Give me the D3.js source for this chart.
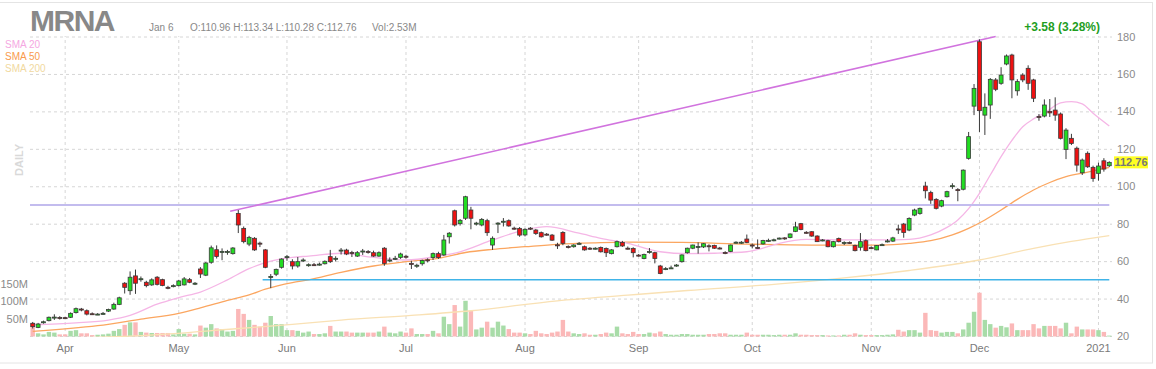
<!DOCTYPE html>
<html>
<head>
<meta charset="utf-8">
<script src="https://cdn.jsdelivr.net/npm/d3@7"></script>
<style>
  body { margin: 0; background: #fff; }
  svg { display: block; }
</style>
</head>
<body>
<div id="chart"></div>
<script>
// trading days, Mar 24 2020 .. Jan 6 2021
const dates = [
  "2020-03-24","2020-03-25","2020-03-26","2020-03-27","2020-03-30","2020-03-31",
  "2020-04-01","2020-04-02","2020-04-03","2020-04-06","2020-04-07","2020-04-08","2020-04-09","2020-04-13","2020-04-14","2020-04-15","2020-04-16","2020-04-17","2020-04-20","2020-04-21","2020-04-22","2020-04-23","2020-04-24","2020-04-27","2020-04-28","2020-04-29","2020-04-30",
  "2020-05-01","2020-05-04","2020-05-05","2020-05-06","2020-05-07","2020-05-08","2020-05-11","2020-05-12","2020-05-13","2020-05-14","2020-05-15","2020-05-18","2020-05-19","2020-05-20","2020-05-21","2020-05-22","2020-05-26","2020-05-27","2020-05-28","2020-05-29",
  "2020-06-01","2020-06-02","2020-06-03","2020-06-04","2020-06-05","2020-06-08","2020-06-09","2020-06-10","2020-06-11","2020-06-12","2020-06-15","2020-06-16","2020-06-17","2020-06-18","2020-06-19","2020-06-22","2020-06-23","2020-06-24","2020-06-25","2020-06-26","2020-06-29","2020-06-30",
  "2020-07-01","2020-07-02","2020-07-06","2020-07-07","2020-07-08","2020-07-09","2020-07-10","2020-07-13","2020-07-14","2020-07-15","2020-07-16","2020-07-17","2020-07-20","2020-07-21","2020-07-22","2020-07-23","2020-07-24","2020-07-27","2020-07-28","2020-07-29","2020-07-30","2020-07-31",
  "2020-08-03","2020-08-04","2020-08-05","2020-08-06","2020-08-07","2020-08-10","2020-08-11","2020-08-12","2020-08-13","2020-08-14","2020-08-17","2020-08-18","2020-08-19","2020-08-20","2020-08-21","2020-08-24","2020-08-25","2020-08-26","2020-08-27","2020-08-28","2020-08-31",
  "2020-09-01","2020-09-02","2020-09-03","2020-09-04","2020-09-08","2020-09-09","2020-09-10","2020-09-11","2020-09-14","2020-09-15","2020-09-16","2020-09-17","2020-09-18","2020-09-21","2020-09-22","2020-09-23","2020-09-24","2020-09-25","2020-09-28","2020-09-29","2020-09-30",
  "2020-10-01","2020-10-02","2020-10-05","2020-10-06","2020-10-07","2020-10-08","2020-10-09","2020-10-12","2020-10-13","2020-10-14","2020-10-15","2020-10-16","2020-10-19","2020-10-20","2020-10-21","2020-10-22","2020-10-23","2020-10-26","2020-10-27","2020-10-28","2020-10-29","2020-10-30",
  "2020-11-02","2020-11-03","2020-11-04","2020-11-05","2020-11-06","2020-11-09","2020-11-10","2020-11-11","2020-11-12","2020-11-13","2020-11-16","2020-11-17","2020-11-18","2020-11-19","2020-11-20","2020-11-23","2020-11-24","2020-11-25","2020-11-27","2020-11-30",
  "2020-12-01","2020-12-02","2020-12-03","2020-12-04","2020-12-07","2020-12-08","2020-12-09","2020-12-10","2020-12-11","2020-12-14","2020-12-15","2020-12-16","2020-12-17","2020-12-18","2020-12-21","2020-12-22","2020-12-23","2020-12-24","2020-12-28","2020-12-29","2020-12-30","2020-12-31",
  "2021-01-04","2021-01-05","2021-01-06"
];

const open = [
  26.8,24.6,27.2,28.2,30.0,29.9,29.8,30.0,32.5,34.4, 33.5,31.9,31.6,32.0,33.3,34.4,36.9,48.2,44.2,52.1,
  50.4,48.7,47.3,51.4,50.1,46.0,46.6,46.9,47.3,50.1, 48.0,55.8,52.5,59.4,66.1,65.0,65.0,64.0,85.5,77.5,
  69.1,72.2,69.6,66.0,51.6,53.0,56.7,62.3,59.7,57.4, 60.4,58.0,58.1,58.3,58.6,62.4,61.3,65.8,65.9,64.6,
  62.7,65.3,65.1,64.5,62.7,66.9,60.5,61.4,62.0,62.6, 58.8,57.7,58.6,60.7,61.9,64.0,63.3,73.0,86.9,80.0,
  82.9,87.3,80.1,79.3,81.6,68.6,80.0,81.0,81.6,77.6, 77.5,74.0,77.6,76.6,75.2,74.4,73.9,68.7,75.3,67.8,
  67.7,69.4,67.7,66.9,66.8,67.3,66.8,64.0,67.7,70.0, 66.9,66.8,63.2,61.4,65.0,64.5,57.4,55.8,56.3,57.6,
  59.7,64.5,66.9,67.6,67.6,68.2,68.3,67.0,64.6,65.1, 69.9,70.0,71.8,68.6,67.3,69.2,71.0,71.3,72.1,72.4,
  72.6,75.9,80.0,75.4,75.7,73.4,71.1,70.9,67.7,72.1, 69.9,70.0,68.3,67.4,70.9,67.2,66.0,68.6,70.6,70.7,
  77.2,79.8,76.6,84.6,85.5,100.1,96.6,93.0,89.4,94.4, 100.0,98.2,98.4,114.9,142.8,177.2,138.0,143.4,156.8,155.0,
  165.3,170.1,151.0,159.4,163.0,156.8,137.3,137.5,140.0,140.7, 138.6,119.7,125.6,120.3,107.2,117.6,110.1,106.9,113.6,110.96
];

const high = [
  27.5,27.0,28.2,30.4,31.6,30.6,30.2,32.6,35.2,35.0, 34.2,32.6,32.2,32.8,34.6,37.8,41.0,48.8,54.5,55.5,
  51.8,49.5,50.8,52.0,50.6,46.8,47.6,50.0,51.5,51.0, 48.8,56.8,59.5,68.3,68.4,66.8,66.0,67.5,87.3,78.5,
  73.5,72.8,70.4,66.5,53.1,56.0,61.5,63.3,61.0,62.2, 61.5,58.8,59.0,59.2,60.4,66.0,62.6,67.0,66.6,65.5,
  65.4,66.5,65.9,65.6,65.2,67.5,62.0,62.8,64.5,63.4, 60.2,58.6,60.8,61.5,64.6,65.0,74.0,75.5,87.5,82.5,
  94.9,89.0,81.0,83.0,82.6,73.2,80.8,83.0,82.3,78.4, 78.2,77.5,78.2,77.2,75.8,75.0,74.5,69.8,76.0,68.4,
  69.0,70.2,68.3,67.5,67.4,67.8,67.3,66.4,71.0,70.8, 67.8,67.4,63.8,64.0,67.0,65.0,58.0,56.8,57.6,58.4,
  63.6,67.2,68.8,70.0,69.6,69.0,68.8,67.6,65.3,68.8, 70.6,70.7,74.2,69.4,71.6,71.4,72.0,72.0,72.6,72.8,
  74.8,81.0,80.4,76.0,76.0,73.8,71.8,71.4,70.8,72.6, 70.6,70.5,68.8,75.0,71.6,67.8,68.6,69.4,71.8,73.0,
  79.5,80.4,83.4,88.0,88.6,102.4,97.6,93.6,92.8,97.6, 101.6,99.0,109.0,129.0,154.6,178.5,149.6,157.8,157.8,163.6,
  170.4,170.8,157.2,160.4,164.6,157.4,138.6,146.4,146.6,147.5, 139.4,131.0,128.0,121.2,114.8,118.6,111.0,112.6,115.0,113.34
];

const low = [
  24.0,24.2,26.6,27.8,28.6,28.8,29.0,29.6,32.0,33.2, 31.0,31.2,31.2,31.4,32.8,34.0,36.5,42.7,42.0,42.5,
  49.0,46.0,46.8,47.0,46.6,45.0,46.0,46.5,47.0,48.2, 47.2,51.0,52.0,58.6,61.4,60.5,63.4,63.5,75.0,69.5,
  68.0,65.5,67.5,56.2,45.6,52.0,56.0,60.2,55.6,56.5, 59.5,57.0,57.4,57.6,58.2,59.0,59.8,63.5,63.2,62.2,
  62.2,63.3,64.0,62.3,62.3,57.5,59.4,60.6,61.2,61.4, 55.8,56.4,57.6,59.3,60.6,61.2,62.8,69.4,78.5,79.0,
  82.0,77.0,79.0,78.6,73.5,66.0,75.0,78.5,78.4,76.8, 73.0,73.2,76.6,74.0,72.6,73.6,70.8,66.5,68.5,66.8,
  67.2,68.6,65.6,66.0,66.2,64.6,62.2,63.6,67.3,67.6, 66.2,62.0,62.4,61.0,64.0,58.8,53.0,55.2,55.8,57.0,
  59.2,64.0,66.4,64.0,67.0,65.2,66.5,66.3,63.7,64.8, 69.4,69.2,69.6,66.8,66.6,68.8,70.2,70.6,71.6,71.4,
  72.2,75.5,76.5,74.6,73.0,70.2,70.6,67.4,67.3,70.0, 68.6,69.2,65.2,65.6,65.2,66.4,65.8,68.2,70.0,70.2,
  74.5,72.5,76.0,84.0,84.8,93.5,90.6,87.6,88.8,94.0, 98.6,92.0,97.8,114.2,138.0,129.0,127.4,136.0,150.8,154.2,
  164.6,147.0,148.4,155.6,151.5,145.0,135.0,136.8,137.0,135.0, 125.0,114.5,122.0,107.8,106.0,109.8,102.4,103.0,107.8,110.28
];

const close = [
  25.0,26.4,27.6,30.0,30.1,29.8,29.6,32.1,34.6,34.3, 31.7,31.8,31.7,32.1,34.2,36.9,40.4,46.0,51.4,48.2,
  50.6,46.9,50.0,47.6,47.0,45.8,46.9,49.4,50.5,48.7, 48.2,53.1,59.0,67.1,62.5,65.2,65.1,67.0,79.3,70.4,
  72.7,66.0,69.4,56.7,51.8,55.6,61.1,62.4,57.4,59.7, 60.6,58.1,58.0,58.4,59.9,59.7,61.5,65.9,63.8,64.5,
  64.5,65.4,65.0,62.7,64.5,58.8,60.6,61.5,63.8,62.4, 58.7,57.8,60.3,60.6,64.0,61.9,71.3,74.9,79.3,81.8,
  94.4,82.9,80.3,82.3,75.2,72.2,80.3,81.3,78.8,77.4, 73.9,77.0,77.4,74.8,73.0,74.2,71.2,68.5,69.5,67.6,
  68.6,69.5,66.0,66.7,66.9,65.0,64.5,66.0,70.4,68.1, 66.7,64.5,63.0,63.5,65.1,61.4,53.4,56.0,56.4,57.9,
  63.3,66.9,68.6,67.8,69.3,68.0,66.9,66.8,64.4,68.6, 70.1,70.1,70.0,68.4,67.1,71.0,71.1,71.4,72.3,72.3,
  74.5,78.3,76.9,75.3,73.4,70.4,71.3,67.7,70.4,70.4, 70.0,69.8,65.6,70.4,65.6,67.1,68.3,68.8,70.8,72.4,
  77.0,75.3,82.8,87.3,88.2,97.6,92.6,88.2,92.3,97.1, 100.3,98.0,108.6,126.5,152.3,140.4,142.2,157.1,151.8,159.4,
  169.6,156.8,155.9,156.8,155.0,147.0,136.8,143.4,139.2,138.0, 125.6,130.0,122.9,111.3,114.0,110.4,104.2,110.8,109.18,112.76
];

// volume, millions
const volume = [
  37,9,6,13,11,6,6,16,18,9, 9,4,5,6,8,16,21,33,40,40,
  13,11,10,10,10,10,6,21,8,8, 6,31,25,35,23,21,14,16,78,64,
  47,33,28,39,58,35,35,18,18,16, 11,14,7,7,9,30,14,14,14,11,
  11,11,11,11,14,28,11,9,14,11, 23,7,7,7,16,9,56,35,89,28,
  101,73,20,25,42,25,42,31,21,11, 11,9,7,16,9,7,11,14,47,14,
  9,7,9,5,5,7,11,9,28,9, 7,13,7,7,11,9,14,7,5,5,
  7,7,5,5,5,7,7,9,9,5, 5,5,11,5,5,5,5,4,5,5,
  5,9,5,5,4,4,4,3,3,3, 5,5,9,5,4,4,4,4,5,6,
  19,14,18,18,11,67,18,16,11,13, 13,9,20,39,70,124,47,35,25,30,
  26,37,18,18,18,35,23,30,30,30, 23,39,9,28,20,20,20,18,13,2.53
];

// moving averages: [day index, value]
const sma20 = [[0,26],[8,27],[14,28.5],[18,31],[23,37],[27,40.5],[31,43.5],[36,50],[40,56],[44,60],[48,62],[51,62.7],[57,64.2],[63,62],[69,60.6],[75,62.7],[79,65],[85,71.3],[91,76.7],[95,78.4],[101,74.9],[105,72.2],[110,69.5],[116,65],[121,64],[126,64.2],[132,65],[135,67],[138,69.5],[143,71.6],[150,71.3],[157,71.3],[162,71.6],[166,74],[169,78],[171,82],[173,88],[175,96.2],[177,106],[179,115.8],[181,124.5],[183,131.8],[185,136],[187,139],[190,144.5],[192,145.2],[194,144],[196,139],[199,132.2]];
const sma50 = [[0,22.5],[12,25.5],[20,29],[27,32.1],[31,35],[36,39],[40,42],[43,45],[48,48.5],[51,50],[57,54],[63,57.4],[69,59.7],[75,61.5],[80,64.6],[85,66.3],[91,67.7],[97,69],[104,69.8],[110,70.2],[120,70],[132,69.1],[144,68.6],[157,68.6],[162,69.5],[166,70.9],[170,74],[173,77.5],[176,82],[179,87.3],[182,93],[185,98],[188,102],[191,105.1],[195,107.5],[199,110.1]];
const sma200 = [[0,18.5],[20,20.2],[38,24],[48,26.2],[57,28.5],[70,31],[81,33.5],[97,38.8],[110,41.8],[121,44.3],[138,47.8],[150,51],[162,55],[175,60.6],[185,66.8],[192,70.5],[199,73.6]];

// drawn levels: [start day index, price]
const trendLine = [[37, 86.6], [178, 180]];
const levelLines = [{from: 0, price: 90, color: "#c3bcee", w: 2}, {from: 43, price: 50, color: "#40b4e8", w: 1.5}];

const priceTicks = [20, 40, 60, 80, 100, 120, 140, 160, 180];
const volumeTicks = [50, 100, 150];
const monthTicks = ["2020-04-01","2020-05-01","2020-06-01","2020-07-01","2020-08-03","2020-09-01","2020-10-01","2020-11-02","2020-12-01","2021-01-04"];
const monthLabels = ["Apr","May","Jun","Jul","Aug","Sep","Oct","Nov","Dec","2021"];

const lastPrice = 112.76;
const headerDate = "Jan 6";
const headerOHLC = "O:110.96 H:113.34 L:110.28 C:112.76";
const headerVol = "Vol:2.53M";
const changeText = "+3.58 (3.28%)";

const width = 1156, height = 369;
const plot = {left: 30, right: 1112, top: 36, bottom: 337};

const svg = d3.select("#chart").append("svg")
  .attr("width", width).attr("height", height)
  .style("font-family", '"Liberation Sans", Arial, sans-serif');

// outer frame
svg.append("rect")
  .attr("x", -1).attr("y", 2.5).attr("width", 1153.5).attr("height", 360.5)
  .attr("fill", "none").attr("stroke", "#e4e4e4");

const x = d3.scaleBand().domain(dates).range([plot.left, plot.right]).padding(0);
const cx = d => x(d) + x.bandwidth() / 2;
const y = d3.scaleLinear().domain([20, 180]).range([336, 36.5]);
const yv = d3.scaleLinear().domain([0, 150]).range([336.5, 283.5]);

// grid
const gridY = svg.append("g")
  .attr("transform", `translate(${plot.left},0)`)
  .call(d3.axisLeft(y).tickValues(priceTicks).tickSize(-(plot.right - plot.left)).tickFormat(""));
const gridX = svg.append("g")
  .attr("transform", `translate(0,${plot.bottom})`)
  .call(d3.axisBottom(x).tickValues(monthTicks).tickSize(-(plot.bottom - plot.top)).tickFormat(""));
[gridY, gridX].forEach(g => {
  g.select(".domain").remove();
  g.selectAll("line").attr("stroke", "#d6d6d6").attr("stroke-dasharray", "3,3");
});

svg.append("defs").append("clipPath").attr("id", "clip")
  .append("rect").attr("x", plot.left - 2).attr("y", plot.top - 1)
  .attr("width", plot.right - plot.left + 4).attr("height", plot.bottom - plot.top + 1);
const area = svg.append("g").attr("clip-path", "url(#clip)");

const idx = d3.range(dates.length);

// volume bars
area.append("g").selectAll("rect")
  .data(idx).join("rect")
  .attr("x", i => x(dates[i]) + 0.5)
  .attr("width", x.bandwidth() - 1)
  .attr("y", i => yv(volume[i]))
  .attr("height", i => yv(0) - yv(volume[i]))
  .attr("fill", i => close[i] >= open[i] ? "#a8dca8" : "#fbb8b8");

// moving averages
const maLine = d3.line().x(p => cx(dates[p[0]])).y(p => y(p[1])).curve(d3.curveMonotoneX);
[[sma200, "#f9e1b4"], [sma50, "#fba660"], [sma20, "#f5b6e6"]].forEach(([pts, c]) => {
  area.append("path").datum(pts).attr("d", maLine)
    .attr("fill", "none").attr("stroke", c).attr("stroke-width", 1.3);
});

// drawn lines
levelLines.forEach(l => {
  area.append("line")
    .attr("x1", l.from === 0 ? plot.left : x(dates[l.from]))
    .attr("x2", cx(dates[dates.length - 1]))
    .attr("y1", y(l.price)).attr("y2", y(l.price))
    .attr("stroke", l.color).attr("stroke-width", l.w);
});
area.append("line")
  .attr("x1", x(dates[trendLine[0][0]])).attr("y1", y(trendLine[0][1]))
  .attr("x2", cx(dates[trendLine[1][0]])).attr("y2", y(trendLine[1][1]))
  .attr("stroke", "#d173de").attr("stroke-width", 1.5);

// candles
const candles = area.append("g").selectAll("g").data(idx).join("g");
candles.append("line")
  .attr("x1", i => cx(dates[i])).attr("x2", i => cx(dates[i]))
  .attr("y1", i => y(high[i])).attr("y2", i => y(low[i]))
  .attr("stroke", "#3a3a3a").attr("stroke-width", 1);
const bodyW = 3.9;
candles.append("rect")
  .attr("x", i => cx(dates[i]) - bodyW / 2)
  .attr("width", bodyW)
  .attr("y", i => y(Math.max(open[i], close[i])))
  .attr("height", i => Math.max(1, Math.abs(y(open[i]) - y(close[i]))))
  .attr("fill", i => close[i] >= open[i] ? "#22dd22" : "#ee1111")
  .attr("stroke", "#3a3a3a").attr("stroke-width", 0.8);

// price axis on the right
const yAxis = svg.append("g")
  .attr("transform", `translate(${plot.right},0)`)
  .call(d3.axisRight(y).tickValues(priceTicks).tickSize(0).tickPadding(5));
yAxis.select(".domain").remove();
yAxis.selectAll("text").attr("fill", "#8a8a8a").style("font-size", "11px");

// volume axis on the left
const vAxis = svg.append("g")
  .attr("transform", `translate(${plot.left},0)`)
  .call(d3.axisLeft(yv).tickValues(volumeTicks).tickFormat(d => d + "M").tickSize(0).tickPadding(2));
vAxis.select(".domain").remove();
vAxis.selectAll("text").attr("fill", "#8a8a8a").style("font-size", "11px");

// month axis
const xAxis = svg.append("g")
  .attr("transform", `translate(0,${plot.bottom + 3})`)
  .call(d3.axisBottom(x).tickValues(monthTicks).tickFormat((d, i) => monthLabels[i]).tickSize(0).tickPadding(4));
xAxis.select(".domain").remove();
xAxis.selectAll("text").attr("fill", "#7a7a7a").style("font-size", "11px");

// last price tag
const tagY = y(lastPrice);
svg.append("rect").attr("x", 1114).attr("y", tagY - 6).attr("width", 34).attr("height", 12).attr("fill", "#ffff22");
svg.append("text").attr("x", 1131).attr("y", tagY + 4).attr("text-anchor", "middle")
  .attr("fill", "#777").style("font-size", "11px").style("font-weight", "bold").text(lastPrice.toFixed(2));

// header
svg.append("text").attr("x", 30).attr("y", 31)
  .attr("fill", "#888").style("font-size", "30px").style("font-weight", "bold")
  .style("letter-spacing", "-1.5px").text("MRNA");
svg.append("text").attr("x", 149).attr("y", 31).attr("fill", "#888").style("font-size", "10px").text(headerDate);
svg.append("text").attr("x", 190).attr("y", 31).attr("fill", "#888").style("font-size", "10px").text(headerOHLC);
svg.append("text").attr("x", 372).attr("y", 31).attr("fill", "#888").style("font-size", "10px").text(headerVol);
svg.append("text").attr("x", 1100).attr("y", 31).attr("text-anchor", "end")
  .attr("fill", "#1f9e1f").style("font-size", "12px").style("font-weight", "bold").text(changeText);

// legend
[["SMA 20", "#f5a8e2"], ["SMA 50", "#f99a4d"], ["SMA 200", "#f1d9a0"]].forEach(([t, c], k) => {
  svg.append("text").attr("x", 5).attr("y", 48 + k * 12)
    .attr("fill", c).style("font-size", "10px").text(t);
});

// timeframe label
svg.append("text")
  .attr("transform", "translate(23,160) rotate(-90)")
  .attr("text-anchor", "middle")
  .attr("fill", "#d9d9d9").style("font-size", "11px").style("font-weight", "bold")
  .text("DAILY");
</script>
</body>
</html>
